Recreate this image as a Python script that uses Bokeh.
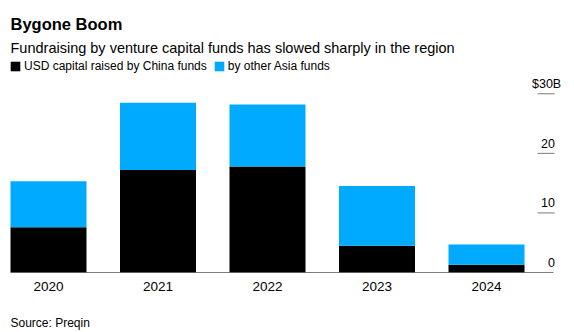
from bokeh.plotting import figure
from bokeh.models import (ColumnDataSource, Range1d, FixedTicker, Legend, LegendItem, Title)
from bokeh.core.properties import value
from bokeh.embed import file_html
from bokeh.resources import INLINE

# ---- data ----
years = ["2020", "2021", "2022", "2023", "2024"]
china = [7.6, 17.2, 17.8, 4.5, 1.3]
other_asia = [7.7, 11.3, 10.4, 10.0, 3.4]
y_ticks = [0, 10, 20, 30]
y_tick_labels = ["0", "10", "20", "$30B"]

BLACK = "#000000"
BLUE = "#00abff"
FONT = "Liberation Sans"

W, H = 574, 332
BASE_PX = 272          # pixel row of the zero line
PX_PER_UNIT = 5.957    # vertical scale
CENTER0 = 48           # pixel x of first bar centre
STEP = 109.5           # pixels between bar centres
BAR_W = 76 / STEP


def px2x(px):
    return (px - CENTER0) / STEP


def px2y(py):
    return (BASE_PX - py) / PX_PER_UNIT


idx = list(range(len(years)))
src = ColumnDataSource(dict(x=idx, year=years, china=china, other=other_asia))

p = figure(width=W, height=H, output_backend="svg", toolbar_location=None,
           x_range=Range1d(px2x(0), px2x(W)), y_range=Range1d(0, px2y(0)),
           min_border_left=0, min_border_right=0, min_border_top=0,
           min_border_bottom=H - BASE_PX)
p.outline_line_color = None
p.background_fill_color = "white"
p.border_fill_color = "white"
p.xgrid.visible = False
p.ygrid.visible = False
p.yaxis.visible = False

# x axis (years)
xa = p.xaxis[0]
xa.ticker = FixedTicker(ticks=idx)
xa.major_label_overrides = {i: y for i, y in zip(idx, years)}
xa.axis_line_color = None
xa.major_tick_line_color = None
xa.minor_tick_line_color = None
xa.major_tick_out = 0
xa.major_tick_in = 0
xa.major_label_standoff = 9
xa.major_label_text_font = FONT
xa.major_label_text_font_size = "13.5px"
xa.major_label_text_color = "#000000"
# invisible spacer label to push the source note to the bottom
xa.axis_label = " "
xa.axis_label_text_font_size = "10px"
xa.axis_label_standoff = 4

# stacked bars
rs = p.vbar_stack(["china", "other"], x="x", width=BAR_W, source=src,
                  color=[BLACK, BLUE], line_color=None)

# baseline
p.segment(x0=[px2x(10)], y0=[0], x1=[px2x(553)], y1=[0], line_color="#000000", line_width=1)

# right-side y ticks and labels
tick_src = ColumnDataSource(dict(y=y_ticks[1:], lab=y_tick_labels[1:]))
p.segment(x0=px2x(537), y0="y", x1=px2x(554), y1="y", source=tick_src,
          line_color="#7a7a7a", line_width=1)
p.text(x=[px2x(554.5)] * 3, y=y_ticks[:3], text=y_tick_labels[:3], text_align="right",
       text_baseline="alphabetic", y_offset=-10, text_font=value(FONT),
       text_font_size="12.5px", text_color="#000000")
p.text(x=[px2x(531.5)], y=[y_ticks[3]], text=[y_tick_labels[3]], text_align="left",
       text_baseline="alphabetic", y_offset=-10, text_font=value(FONT),
       text_font_size="12.5px", text_color="#000000")

# title and subtitle
p.text(x=[px2x(10)], y=[px2y(23)], text=["Bygone Boom"], text_font=value(FONT),
       text_font_size="16.5px", text_font_style="bold", text_baseline="alphabetic",
       text_color="#000000")
p.text(x=[px2x(10)], y=[px2y(47)], text=["Fundraising by venture capital funds has slowed sharply in the region"],
       text_font=value(FONT), text_font_size="14.5px", text_baseline="alphabetic",
       text_color="#000000")

# legend
legend = Legend(items=[LegendItem(label="USD capital raised by China funds", renderers=[rs[0]]),
                       LegendItem(label="by other Asia funds", renderers=[rs[1]])],
                orientation="horizontal", location=(9, 196),
                glyph_width=12, glyph_height=12, label_standoff=3, spacing=6,
                padding=0, margin=0, border_line_color=None, background_fill_alpha=0,
                label_text_font=FONT, label_text_font_size="12px", label_height=20,
                label_text_color="#000000")
p.add_layout(legend)

# source note
p.add_layout(Title(text="Source: Preqin", align="left", text_font=FONT,
                   text_font_size="12px", text_font_style="normal",
                   text_color="#000000", offset=10, standoff=4), "below")

open("out.html", "w").write(file_html(p, INLINE))
